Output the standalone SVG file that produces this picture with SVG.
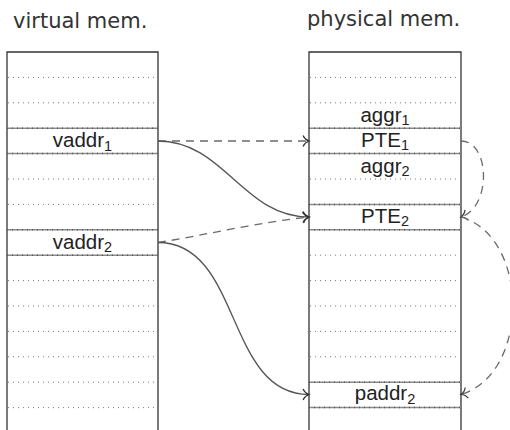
<svg xmlns="http://www.w3.org/2000/svg" width="510" height="430" viewBox="0 0 510 430">
<style>
.title{font-family:"DejaVu Sans","Liberation Sans",sans-serif;font-size:21px;fill:#333}
.lab{font-family:"Liberation Sans",Arial,sans-serif;fill:#222;text-anchor:middle;font-size:20.5px}
.sub{font-size:14.5px}
.box{fill:none;stroke:#333;stroke-width:1.3}
.dot{stroke:#777;stroke-width:1;stroke-dasharray:1 4;fill:none}
.sep{stroke:#8a8a8a;stroke-width:1.5;fill:none}
.sepd{stroke:#555;stroke-width:1.5;stroke-dasharray:1 4;fill:none}
.solid{fill:none;stroke:#555;stroke-width:1.3}
.dash{fill:none;stroke:#6a6a6a;stroke-width:1.3;stroke-dasharray:8 6}
</style>
<defs>
<marker id="to" markerUnits="userSpaceOnUse" markerWidth="14" markerHeight="14" refX="0" refY="0" viewBox="-8 -7 10 14" orient="auto" overflow="visible">
<path d="M-6,-5.5 C-4.5,-2 -1.5,-0.5 0,0 C-1.5,0.5 -4.5,2 -6,5.5" fill="none" stroke="#333" stroke-width="1.2" stroke-dasharray="none"/>
</marker>
</defs>

<g id="title-virtual"><text class="title" x="13" y="28">virtual mem.</text></g>
<g id="title-physical"><text class="title" x="307" y="26">physical mem.</text></g>

<g id="virtual-mem">
<path class="dot" d="M8,77.4H157M8,102.8H157M8,179H157M8,204.4H157M8,280.6H157M8,306H157M8,331.4H157M8,356.8H157M8,382.2H157M8,407.6H157"/>
<path class="box" d="M7,440V52H158V440"/>
</g>
<g id="vaddr1">
<path class="sep" d="M7,128.2H158M7,153.6H158"/>
<path class="sepd" d="M7,128.2H158M7,153.6H158"/>
<text class="lab" x="82.5" y="147.3">vaddr<tspan class="sub" dy="3.3">1</tspan></text>
</g>
<g id="vaddr2">
<path class="sep" d="M7,229.8H158M7,255.2H158"/>
<path class="sepd" d="M7,229.8H158M7,255.2H158"/>
<text class="lab" x="82.5" y="248.6">vaddr<tspan class="sub" dy="3.3">2</tspan></text>
</g>

<g id="physical-mem">
<path class="dot" d="M310,77.4H460M310,102.8H460M310,179H460M310,255.2H460M310,280.6H460M310,306H460M310,331.4H460M310,356.8H460"/>
<path class="box" d="M309,440V52H461V440"/>
</g>
<g id="aggr1">
<text class="lab" x="385" y="121.7">aggr<tspan class="sub" dy="3.3">1</tspan></text>
</g>
<g id="pte1">
<path class="sep" d="M309,128.2H461M309,153.6H461"/>
<path class="sepd" d="M309,128.2H461M309,153.6H461"/>
<text class="lab" x="385" y="147.3">PTE<tspan class="sub" dy="3">1</tspan></text>
</g>
<g id="aggr2">
<text class="lab" x="385" y="172.7">aggr<tspan class="sub" dy="3.3">2</tspan></text>
</g>
<g id="pte2">
<path class="sep" d="M309,204.4H461M309,229.8H461"/>
<path class="sepd" d="M309,204.4H461M309,229.8H461"/>
<text class="lab" x="385" y="223.4">PTE<tspan class="sub" dy="3">2</tspan></text>
</g>
<g id="paddr2">
<path class="sep" d="M309,382.2H461M309,407.6H461"/>
<path class="sepd" d="M309,382.2H461M309,407.6H461"/>
<text class="lab" x="385" y="400.3">paddr<tspan class="sub" dy="3.3">2</tspan></text>
</g>

<g id="connectors">
<path class="dash" d="M158,141 H309" marker-end="url(#to)"/>
<path class="solid" d="M158,141 C224,141 243,217 309,217" marker-end="url(#to)"/>
<path class="dash" d="M158,242.5 C200,236 260,222 309,217" marker-end="url(#to)"/>
<path class="solid" d="M158,242.5 C242,242.5 225,394.5 309,394.5" marker-end="url(#to)"/>
<path class="dash" d="M461,141 C490,141 492,207 461,217" marker-end="url(#to)"/>
<path class="dash" d="M461,217 C530,237 530,374 461,394.5" marker-end="url(#to)"/>
</g>
</svg>
